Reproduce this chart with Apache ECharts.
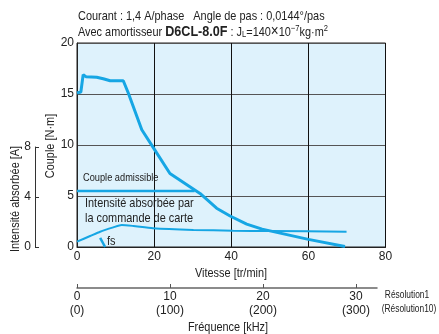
<!DOCTYPE html>
<html><head><meta charset="utf-8">
<script src="https://cdn.jsdelivr.net/npm/echarts@6/dist/echarts.min.js"></script>
<style>html,body{margin:0;padding:0;background:#fff}#c{width:439px;height:334px}</style>
</head><body><div id="c"></div>
<script>
// Speed [tr/min] vs pull-out torque [N·m]
const pulloutSpeed  = [0, 1, 1.6, 2.3, 5.1, 6.8, 8.6, 12, 13.3, 16.8, 20.2, 24.1, 31.9, 36.2, 39.7, 44, 48, 60, 69.5];
const pulloutTorque = [15.1, 15.2, 16.9, 16.7, 16.65, 16.5, 16.3, 16.3, 15.1, 11.5, 9.5, 7.2, 5.25, 3.8, 3.04, 2.25, 1.75, 0.75, 0.05];
// Permissible torque
const admSpeed  = [0, 30.5];
const admTorque = [5.5, 5.5];
// Driver input current [A]
const curSpeed = [0, 3.4, 6, 9.4, 11.6, 14.6, 19.7, 30.2, 40.5, 50, 69.9];
const curAmp   = [0.42, 0.86, 1.2, 1.54, 1.73, 1.65, 1.47, 1.34, 1.28, 1.25, 1.2];
// fs marker
const fsSpeed  = [6.0, 7.3];
const fsTorque = [0.9, 0];
// Axis ticks
const speedTicks = [0, 20, 40, 60, 80];
const torqueTicks = [0, 5, 10, 15, 20];
const ampTicks = [0, 4, 8];
const freqTicks = [0, 10, 20, 30];
const freqTicks10 = [0, 100, 200, 300];

const F = "'Liberation Sans',Arial,sans-serif";
const BLUE = '#16a6e4';
const TXT = '#222';
const zip = (a, b) => a.map((v, i) => [v, b[i]]);
const SX = 0.84;
function txt(x, y, text, size, extra) {
  return Object.assign({type: 'text', x: x, y: y, scaleX: SX,
    style: Object.assign({text: text, font: size + 'px ' + F, fill: TXT, verticalAlign: 'middle'}, extra || {})});
}

const chart = echarts.init(document.getElementById('c'));
chart.setOption({
  animation: false,
  textStyle: {fontFamily: F, color: TXT},
  grid: [
    {left: 77, top: 43, width: 308.5, height: 204, show: true, backgroundColor: '#def2fc', borderColor: '#222', borderWidth: 1},
    {left: 77, top: 287, width: 300, height: 1},
    {left: 35, top: 147, width: 1, height: 100}
  ],
  xAxis: [
    {gridIndex: 0, type: 'value', min: 0, max: 80, interval: 20,
     axisLine: {lineStyle: {color: '#222'}}, axisTick: {show: false},
     axisLabel: {fontSize: 12, margin: 4, color: TXT, fontFamily: F},
     splitLine: {show: true, lineStyle: {color: '#111', width: 1}}},
    {gridIndex: 1, type: 'value', min: 0, max: 32.26,
     axisLine: {lineStyle: {color: '#666', width: 1.5}},
     axisTick: {inside: true, length: 4, lineStyle: {color: '#555'}, customValues: freqTicks},
     axisLabel: {fontSize: 12, margin: 2, lineHeight: 14, color: TXT, fontFamily: F, customValues: freqTicks,
       formatter: v => v + '\n(' + freqTicks10[freqTicks.indexOf(v)] + ')'},
     splitLine: {show: false}},
    {gridIndex: 2, type: 'value', min: 0, max: 1, show: false}
  ],
  yAxis: [
    {gridIndex: 0, type: 'value', min: 0, max: 20, interval: 5,
     axisLine: {show: true, lineStyle: {color: '#222'}}, axisTick: {show: false},
     axisLabel: {fontSize: 12, margin: 3, color: TXT, fontFamily: F},
     splitLine: {show: true, lineStyle: {color: '#555', width: 1}}},
    {gridIndex: 0, type: 'value', min: 0, max: 16, show: false},
    {gridIndex: 2, type: 'value', min: 0, max: 8, interval: 4,
     axisLine: {show: true, lineStyle: {color: '#333'}},
     axisTick: {show: true, inside: true, length: 4, lineStyle: {color: '#333'}},
     axisLabel: {fontSize: 12, margin: 4, color: TXT, fontFamily: F},
     splitLine: {show: false}},
    {gridIndex: 1, type: 'value', min: 0, max: 1, show: false}
  ],
  series: [
    {type: 'line', xAxisIndex: 0, yAxisIndex: 0, data: zip(pulloutSpeed, pulloutTorque), symbol: 'none',
     lineStyle: {color: BLUE, width: 3}},
    {type: 'line', xAxisIndex: 0, yAxisIndex: 0, data: zip(admSpeed, admTorque), symbol: 'none',
     lineStyle: {color: BLUE, width: 2.5}},
    {type: 'line', xAxisIndex: 0, yAxisIndex: 1, data: zip(curSpeed, curAmp), symbol: 'none', smooth: 0.2,
     lineStyle: {color: BLUE, width: 2}},
    {type: 'line', xAxisIndex: 0, yAxisIndex: 0, data: zip(fsSpeed, fsTorque), symbol: 'none',
     lineStyle: {color: BLUE, width: 2.5}}
  ],
  graphic: [
    txt(78, 16, 'Courant : 1,4 A/phase   Angle de pas : 0,0144°/pas', 13),
    Object.assign(txt(78, 32, 'Avec amortisseur {b|D6CL-8.0F} : J{s|L}=140{x|×}10{u|−7}kg·m{u|2}', 13, {
      rich: {b: {fontFamily: F, fontWeight: 'bold', fontSize: 15, fill: TXT},
             x: {fontSize: 16, fill: TXT},
             s: {fontSize: 9, fill: TXT, padding: [5, 0, 0, 0]},
             u: {fontSize: 9, fill: TXT, padding: [0, 0, 6, 0]}}})),
    txt(83, 178, 'Couple admissible', 11),
    txt(85, 203, 'Intensité absorbée par', 13),
    txt(85, 218, 'la commande de carte', 13),
    txt(107, 241, 'fs', 13),
    txt(231, 273, 'Vitesse [tr/min]', 13, {align: 'center'}),
    txt(228, 327, 'Fréquence [kHz]', 13, {align: 'center'}),
    txt(407, 295, 'Résolution1', 10, {align: 'center'}),
    txt(409, 309, '(Résolution10)', 10, {align: 'center'}),
    {type: 'text', x: 50, y: 146, rotation: Math.PI / 2, scaleX: SX,
     style: {text: 'Couple [N·m]', font: '13px ' + F, fill: TXT, align: 'center', verticalAlign: 'middle'}},
    {type: 'text', x: 15, y: 199, rotation: Math.PI / 2, scaleX: SX,
     style: {text: 'Intensité absorbée [A]', font: '13px ' + F, fill: TXT, align: 'center', verticalAlign: 'middle'}}
  ]
});
</script></body></html>
